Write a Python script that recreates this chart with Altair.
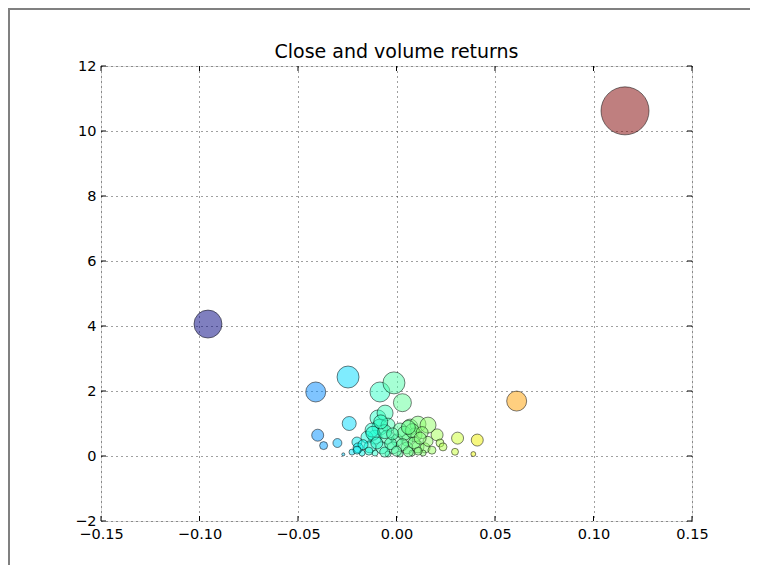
import altair as alt
import numpy as np
import pandas as pd

# ---- data ----
close_ret = [-0.0957, 0.116, 0.061, -0.041, -0.0246, -0.0084, -0.0013, 0.0030,
             -0.0240, -0.040, -0.037, -0.030, -0.027, 0.031, 0.041, 0.0297, 0.039,
             -0.0094, -0.0058, -0.0084, -0.0043, -0.0109, -0.0048, 0.0069, 0.0109,
             0.0160, 0.0206, 0.0094, 0.0053, 0.0003, -0.0150, -0.0201, -0.0195,
             -0.0135, -0.0074, -0.0018, 0.0053, 0.0109, 0.0145, 0.0221, 0.0236,
             -0.0175, -0.0109, -0.0043, 0.0018, 0.0079, 0.0135, -0.0226,
             -0.0124, 0.0018,
             -0.012, -0.006, 0.004, 0.008, 0.013, -0.017, -0.010, -0.003,
             0.003, 0.009, 0.016, -0.014, -0.006, 0.000, 0.006, 0.011,
             0.018, -0.020, 0.006, -0.008, 0.012, -0.002]
volume_ret = [4.06, 10.62, 1.69, 1.97, 2.43, 1.97, 2.25, 1.64,
              1.00, 0.64, 0.32, 0.40, 0.05, 0.55, 0.49, 0.13, 0.06,
              1.17, 1.32, 0.89, 0.95, 0.58, 0.58, 0.89, 0.98,
              0.95, 0.65, 0.65, 0.49, 0.49, 0.58, 0.43, 0.25,
              0.28, 0.25, 0.25, 0.25, 0.28, 0.25, 0.40, 0.28,
              0.09, 0.09, 0.06, 0.06, 0.09, 0.09, 0.12,
              0.80, 0.80,
              0.70, 0.75, 0.70, 0.78, 0.72, 0.35, 0.40, 0.38,
              0.35, 0.40, 0.45, 0.15, 0.12, 0.15, 0.13, 0.15,
              0.18, 0.18, 0.88, 1.05, 0.55, 0.68]
volume = [196, 576, 100, 100, 121, 100, 121, 81,
          49, 36, 16, 20, 2.3, 36, 36, 12, 6,
          64, 64, 64, 49, 49, 49, 64, 64,
          64, 36, 49, 36, 36, 36, 25, 25,
          36, 36, 36, 36, 36, 25, 16, 16,
          9, 9, 9, 9, 9, 9, 9,
          49, 49,
          49, 49, 49, 49, 36, 25, 36, 36,
          36, 36, 25, 16, 25, 25, 25, 16,
          16, 16, 49, 49, 36, 36]

x_ticks = [-0.15, -0.10, -0.05, 0.00, 0.05, 0.10, 0.15]
y_ticks = [-2, 0, 2, 4, 6, 8, 10, 12]
title_text = ["Close and volume returns"]

df = pd.DataFrame({"close": close_ret, "vol_ret": volume_ret, "volume": volume})
xt = pd.DataFrame({"v": x_ticks})
yt = pd.DataFrame({"v": y_ticks})
tt = pd.DataFrame({"t": title_text})

# jet colormap stops
cmin, cmax = min(close_ret), max(close_ret)
ts = np.linspace(0, 1, 17)
def jet(t):
    r = np.interp(t, [0, 0.35, 0.66, 0.89, 1], [0, 0, 1, 1, 0.5])
    g = np.interp(t, [0, 0.125, 0.375, 0.64, 0.91, 1], [0, 0, 1, 1, 0, 0])
    b = np.interp(t, [0, 0.11, 0.34, 0.65, 1], [0.5, 1, 1, 0, 0])
    return "#%02x%02x%02x" % (int(round(r * 255)), int(round(g * 255)), int(round(b * 255)))
c_range = [jet(t) for t in ts]
c_domain = [float(cmin + t * (cmax - cmin)) for t in ts]

W, H = 591, 455
FONT = "DejaVu Sans"

xscale = alt.Scale(domain=[-0.15, 0.15], nice=False, zero=False)
yscale = alt.Scale(domain=[-2, 12], nice=False, zero=False)

grid_style = dict(grid=True, gridDash=[1, 4], gridColor="black", gridOpacity=0.75)
xaxis = alt.Axis(values=x_ticks, title=None, ticks=False, labelPadding=6,
                 labelExpr="replace(format(datum.value, '.2f'), '-', '\u2212')",
                 labelFont=FONT, labelFontSize=14.5, labelColor="black",
                 domain=False, labelFlush=False, **grid_style)
yaxis = alt.Axis(values=y_ticks, title=None, ticks=False, labelPadding=5,
                 labelExpr="replace(format(datum.value, '.0f'), '-', '\u2212')",
                 labelFont=FONT, labelFontSize=14.5, labelColor="black",
                 domain=False, labelFlush=False, **grid_style)

points = alt.Chart(df).mark_circle(
    fillOpacity=0.5, stroke="black", strokeOpacity=0.5, strokeWidth=1
).encode(
    x=alt.X("close:Q", scale=xscale, axis=xaxis),
    y=alt.Y("vol_ret:Q", scale=yscale, axis=yaxis),
    color=alt.Color("close:Q", scale=alt.Scale(domain=c_domain, range=c_range), legend=None),
    size=alt.Size("volume:Q", scale=alt.Scale(domain=[0, 576], range=[0, 2304]), legend=None),
)

tick_style = dict(color="black", strokeWidth=1)
xb = alt.Chart(xt).mark_rule(**tick_style).encode(
    x=alt.X("v:Q", scale=xscale, axis=xaxis), y=alt.value(H), y2=alt.value(H - 5))
xtp = alt.Chart(xt).mark_rule(**tick_style).encode(
    x=alt.X("v:Q", scale=xscale, axis=xaxis), y=alt.value(0), y2=alt.value(5))
yl = alt.Chart(yt).mark_rule(**tick_style).encode(
    y=alt.Y("v:Q", scale=yscale, axis=yaxis), x=alt.value(0), x2=alt.value(5))
yr = alt.Chart(yt).mark_rule(**tick_style).encode(
    y=alt.Y("v:Q", scale=yscale, axis=yaxis), x=alt.value(W), x2=alt.value(W - 5))

title = alt.Chart(tt).mark_text(
    font=FONT, fontSize=19, color="black", align="center", baseline="alphabetic"
).encode(text="t:N", x=alt.value(W / 2), y=alt.value(-8))

edge_left = alt.Chart(tt).mark_rule(color="#808080", strokeWidth=2).encode(
    x=alt.value(-92), y=alt.value(-58), y2=alt.value(H + 46))
edge_top = alt.Chart(tt).mark_rule(color="#808080", strokeWidth=2).encode(
    y=alt.value(-57), x=alt.value(-93), x2=alt.value(W + 58))

chart = alt.layer(points, xb, xtp, yl, yr, title, edge_left, edge_top).properties(
    width=W, height=H,
    autosize=alt.AutoSizeParams(type="none"),
    padding={"left": 93, "top": 58, "right": 58, "bottom": 44},
).configure_view(stroke="black", strokeWidth=1).configure(background="white")

chart.save("out.html", embed_options={"renderer": "svg", "actions": False})
